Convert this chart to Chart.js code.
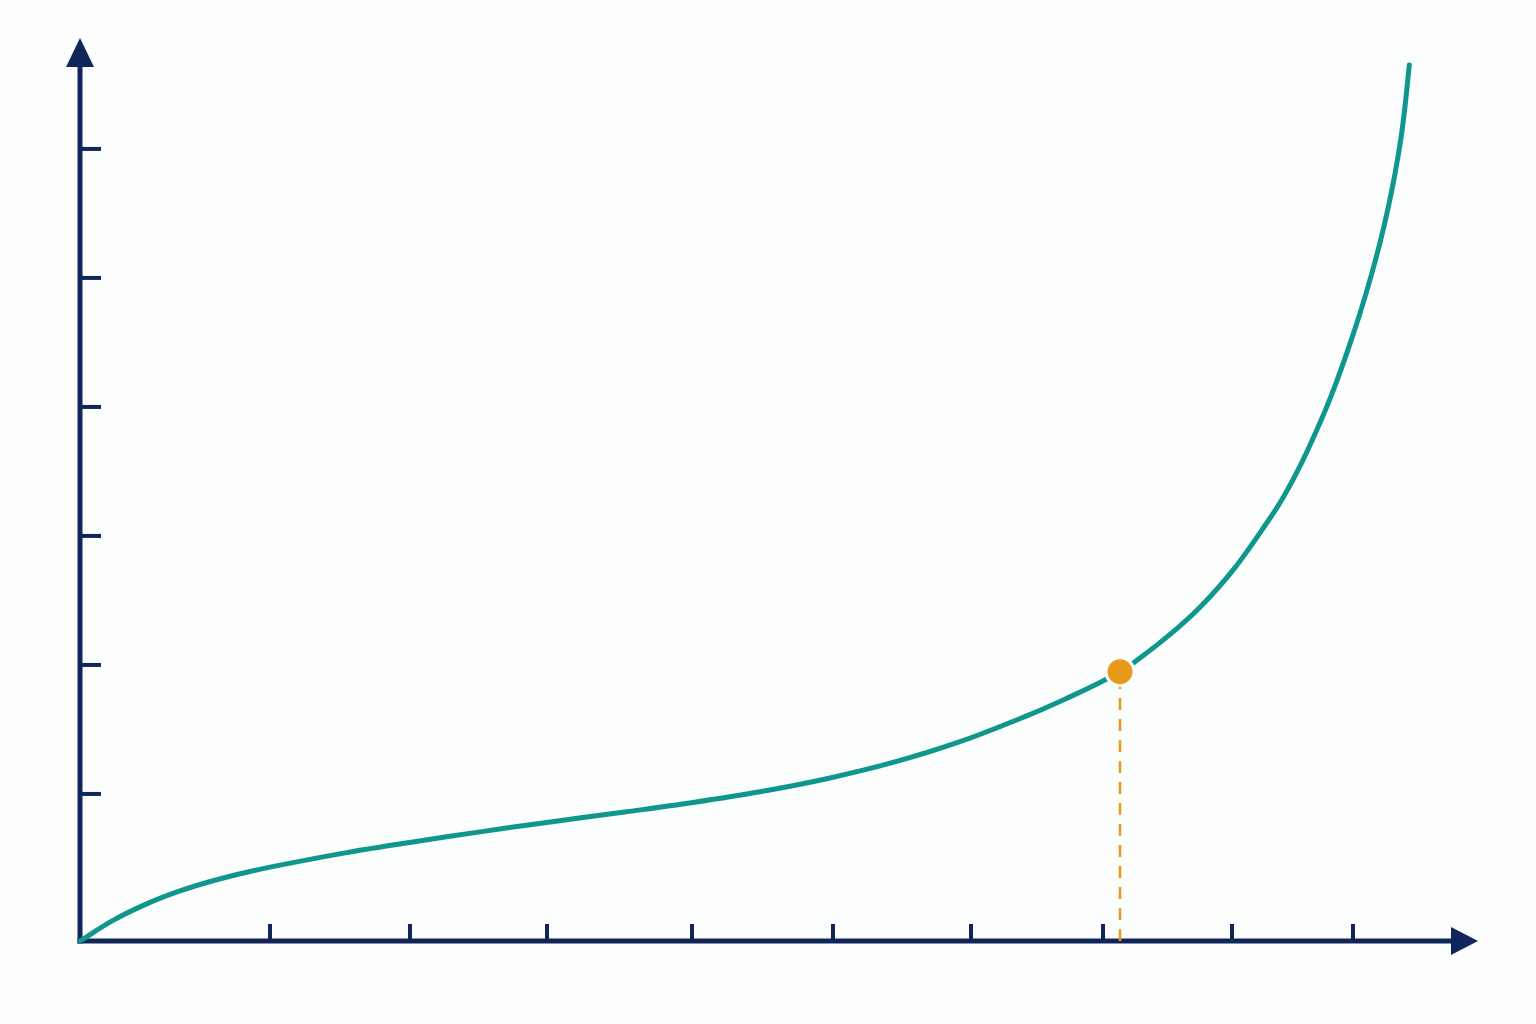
<!DOCTYPE html>
<html>
<head>
<meta charset="utf-8">
<script src="https://cdn.jsdelivr.net/npm/chart.js@4"></script>
<style>
  html, body { margin: 0; padding: 0; background: #fcfdfd; }
  #wrap { width: 1536px; height: 1024px; position: relative; }
</style>
</head>
<body>
<div id="wrap"><canvas id="c"></canvas></div>
<script>
// ---- data (abstract units) ----
const curveX = [0, 0.33, 0.667, 1.00, 1.33, 1.667, 2.00, 2.667, 3.33, 4.00, 4.667, 5.467, 6.13, 6.80, 7.467, 8.13, 8.80, 9.467, 9.867, 10.20, 10.40, 10.53, 10.867, 11.20, 11.53, 11.867, 12.04, 12.22, 12.417, 12.55, 12.68, 12.80, 12.907, 13.00, 13.08, 13.15, 13.207, 13.25, 13.293];
const curveY = [0, 0.160, 0.288, 0.388, 0.467, 0.533, 0.588, 0.685, 0.768, 0.846, 0.919, 1.002, 1.074, 1.157, 1.258, 1.384, 1.545, 1.745, 1.881, 2.004, 2.088, 2.153, 2.355, 2.588, 2.875, 3.240, 3.450, 3.712, 4.048, 4.304, 4.584, 4.866, 5.144, 5.414, 5.678, 5.948, 6.210, 6.468, 6.790];
const markerX = [10.40];
const markerY = [2.088];
const xTickValues = [1.90, 3.30, 4.67, 6.12, 7.53, 8.91, 10.23, 11.52, 12.73];
const yTickValues = [1.14, 2.14, 3.14, 4.14, 5.14, 6.14];
const xRange = [0, 14];
const yRange = [0, 7];

// ---- styles ----
const NAVY = '#10265b';
const TEAL = '#0f968d';
const ORANGE = '#e89b1a';

const curvePoints = curveX.map((x, i) => ({ x: x, y: curveY[i] }));
const markerPoints = markerX.map((x, i) => ({ x: x, y: markerY[i] }));
const dropPoints = [{ x: markerX[0], y: 0 }, { x: markerX[0], y: markerY[0] }];

const axesPlugin = {
  id: 'axesPlugin',
  beforeDraw(chart) {
    const ctx = chart.ctx;
    ctx.save();
    ctx.fillStyle = '#fcfdfd';
    ctx.fillRect(0, 0, chart.width, chart.height);
    ctx.restore();
  },
  beforeDatasetsDraw(chart) {
    const ctx = chart.ctx;
    const xs = chart.scales.x, ys = chart.scales.y;
    const x0 = xs.getPixelForValue(xRange[0]);
    const y0 = ys.getPixelForValue(yRange[0]);
    const xEnd = xs.getPixelForValue(xRange[1]);
    const yEnd = ys.getPixelForValue(yRange[1]);
    ctx.save();
    ctx.strokeStyle = NAVY;
    ctx.fillStyle = NAVY;
    ctx.lineWidth = 5;
    ctx.lineCap = 'butt';
    // y axis
    ctx.beginPath();
    ctx.moveTo(x0, y0 + 2.5);
    ctx.lineTo(x0, yEnd + 26);
    ctx.stroke();
    // x axis
    ctx.beginPath();
    ctx.moveTo(x0 - 2.5, y0);
    ctx.lineTo(xEnd - 26, y0);
    ctx.stroke();
    // arrowheads
    ctx.beginPath();
    ctx.moveTo(x0, yEnd);
    ctx.lineTo(x0 - 14, yEnd + 29);
    ctx.lineTo(x0 + 14, yEnd + 29);
    ctx.closePath();
    ctx.fill();
    ctx.beginPath();
    ctx.moveTo(xEnd - 2, y0);
    ctx.lineTo(xEnd - 29, y0 - 14);
    ctx.lineTo(xEnd - 29, y0 + 14);
    ctx.closePath();
    ctx.fill();
    // ticks
    ctx.lineWidth = 4;
    xTickValues.forEach(v => {
      const px = xs.getPixelForValue(v);
      ctx.beginPath();
      ctx.moveTo(px, y0);
      ctx.lineTo(px, y0 - 17);
      ctx.stroke();
    });
    yTickValues.forEach(v => {
      const py = ys.getPixelForValue(v);
      ctx.beginPath();
      ctx.moveTo(x0, py);
      ctx.lineTo(x0 + 21, py);
      ctx.stroke();
    });
    ctx.restore();
  }
};

new Chart(document.getElementById('c'), {
  type: 'scatter',
  data: {
    datasets: [
      {
        label: 'marker',
        data: markerPoints,
        showLine: false,
        pointRadius: 14,
        pointBackgroundColor: ORANGE,
        pointBorderColor: '#ffffff',
        pointBorderWidth: 3,
        order: 0
      },
      {
        label: 'curve',
        data: curvePoints,
        showLine: true,
        borderColor: TEAL,
        borderWidth: 5,
        pointRadius: 0,
        tension: 0.35,
        borderCapStyle: 'round',
        fill: false,
        order: 1
      },
      {
        label: 'drop',
        data: dropPoints,
        showLine: true,
        borderColor: ORANGE,
        borderWidth: 2.5,
        borderDash: [12, 9],
        pointRadius: 0,
        fill: false,
        order: 2
      }
    ]
  },
  options: {
    responsive: true,
    maintainAspectRatio: false,
    animation: false,
    clip: false,
    layout: { padding: { left: 80, right: 56, top: 38, bottom: 83 } },
    plugins: { legend: { display: false }, tooltip: { enabled: false } },
    scales: {
      x: { type: 'linear', min: xRange[0], max: xRange[1], display: false },
      y: { type: 'linear', min: yRange[0], max: yRange[1], display: false }
    }
  },
  plugins: [axesPlugin]
});
</script>
</body>
</html>
